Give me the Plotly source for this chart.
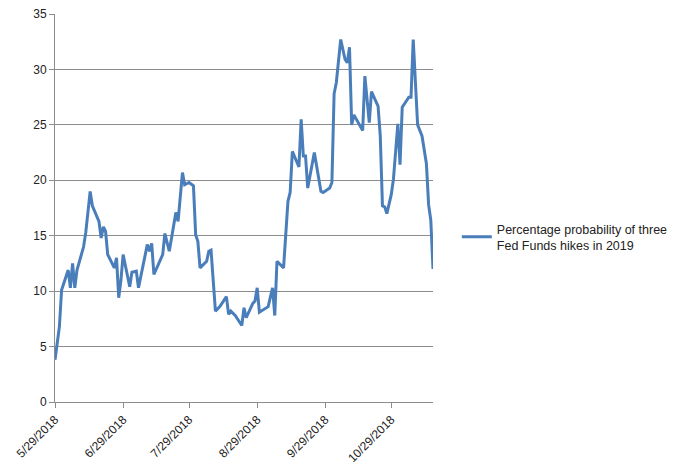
import plotly.graph_objects as go

dates = [
    "2018-05-29", "2018-05-31", "2018-06-01", "2018-06-04", "2018-06-05", "2018-06-06",
    "2018-06-07", "2018-06-08", "2018-06-11", "2018-06-12", "2018-06-14", "2018-06-15",
    "2018-06-18", "2018-06-19", "2018-06-20", "2018-06-21", "2018-06-22", "2018-06-25",
    "2018-06-26", "2018-06-27", "2018-06-28", "2018-06-29", "2018-07-02", "2018-07-03",
    "2018-07-05", "2018-07-06", "2018-07-10", "2018-07-11", "2018-07-12", "2018-07-13",
    "2018-07-17", "2018-07-18", "2018-07-20", "2018-07-23", "2018-07-24", "2018-07-26",
    "2018-07-27", "2018-07-29", "2018-07-31", "2018-08-01", "2018-08-02", "2018-08-03",
    "2018-08-06", "2018-08-07", "2018-08-08", "2018-08-10", "2018-08-12", "2018-08-15",
    "2018-08-16", "2018-08-17", "2018-08-19", "2018-08-22", "2018-08-23", "2018-08-24",
    "2018-08-27", "2018-08-28", "2018-08-29", "2018-08-30", "2018-09-03", "2018-09-05",
    "2018-09-06", "2018-09-07", "2018-09-10", "2018-09-12", "2018-09-13", "2018-09-14",
    "2018-09-17", "2018-09-18", "2018-09-19", "2018-09-20", "2018-09-21", "2018-09-24",
    "2018-09-27", "2018-09-28", "2018-10-01", "2018-10-02", "2018-10-03", "2018-10-04",
    "2018-10-06", "2018-10-08", "2018-10-09", "2018-10-10", "2018-10-11", "2018-10-12",
    "2018-10-16", "2018-10-17", "2018-10-19", "2018-10-20", "2018-10-23", "2018-10-24",
    "2018-10-25", "2018-10-26", "2018-10-27", "2018-10-29", "2018-10-30", "2018-11-01",
    "2018-11-02", "2018-11-03", "2018-11-06", "2018-11-07", "2018-11-08", "2018-11-10",
    "2018-11-12", "2018-11-14", "2018-11-15", "2018-11-16", "2018-11-17",
]
probability = [
    3.8, 6.8, 10.1, 11.9, 10.3, 12.5,
    10.3, 11.9, 14.0, 15.3, 19.0, 17.7,
    16.3, 14.8, 15.8, 15.4, 13.3, 12.1,
    13.0, 9.4, 11.0, 13.3, 10.4, 11.7,
    11.8, 10.3, 14.2, 13.6, 14.3, 11.5,
    13.3, 15.2, 13.6, 17.1, 16.3, 20.7,
    19.6, 19.8, 19.5, 15.1, 14.5, 12.1,
    12.7, 13.6, 13.7, 8.2, 8.6, 9.5,
    7.9, 8.2, 7.8, 6.9, 8.5, 7.6,
    8.9, 9.1, 10.3, 8.1, 8.6, 10.3,
    7.8, 12.7, 12.1, 18.1, 18.9, 22.6,
    21.2, 25.5, 22.2, 22.2, 19.3, 22.5,
    19.0, 18.9, 19.3, 19.8, 27.8, 28.8,
    32.7, 30.9, 30.6, 32.0, 25.0, 25.9,
    24.5, 29.4, 25.2, 28.0, 26.7, 24.0,
    17.7, 17.6, 17.0, 18.7, 20.1, 25.1,
    21.4, 26.6, 27.5, 27.5, 32.7, 25.0,
    24.0, 21.5, 17.8, 16.4, 12.0,
]
tick_dates = ["2018-05-29", "2018-06-29", "2018-07-29", "2018-08-29", "2018-09-29", "2018-10-29"]
tick_labels = ["5/29/2018", "6/29/2018", "7/29/2018", "8/29/2018", "9/29/2018", "10/29/2018"]
series_name = "Percentage probability of three<br>Fed Funds hikes in 2019"

fig = go.Figure()
fig.add_trace(go.Scatter(
    x=dates, y=probability, mode="lines", name=series_name,
    line=dict(color="#4a7ebb", width=3),
))

fig.update_layout(
    width=689, height=465,
    margin=dict(l=55, r=256, t=14, b=63),
    paper_bgcolor="white", plot_bgcolor="white",
    font=dict(family="Liberation Sans, Arial, sans-serif", size=12, color="#222222"),
    showlegend=True,
    legend=dict(x=1.063, y=0.425, xanchor="left", yanchor="middle",
                font=dict(size=12.5, color="#222222"), bgcolor="rgba(0,0,0,0)"),
    xaxis=dict(
        type="date", range=["2018-05-29", "2018-11-17"], automargin=False,
        tickvals=tick_dates, ticktext=tick_labels, tickangle=-45,
        showgrid=False, showline=True, linecolor="#8c8c8c", linewidth=1,
        ticks="outside", ticklen=5, tickcolor="#8c8c8c", zeroline=False,
    ),
    yaxis=dict(
        range=[0, 35], dtick=5, tick0=0, automargin=False,
        showgrid=True, gridcolor="#8c8c8c", gridwidth=1,
        showline=True, linecolor="#8c8c8c", linewidth=1,
        ticks="outside", ticklen=5, tickcolor="#8c8c8c", zeroline=False,
    ),
)

fig.write_html("out.html")
